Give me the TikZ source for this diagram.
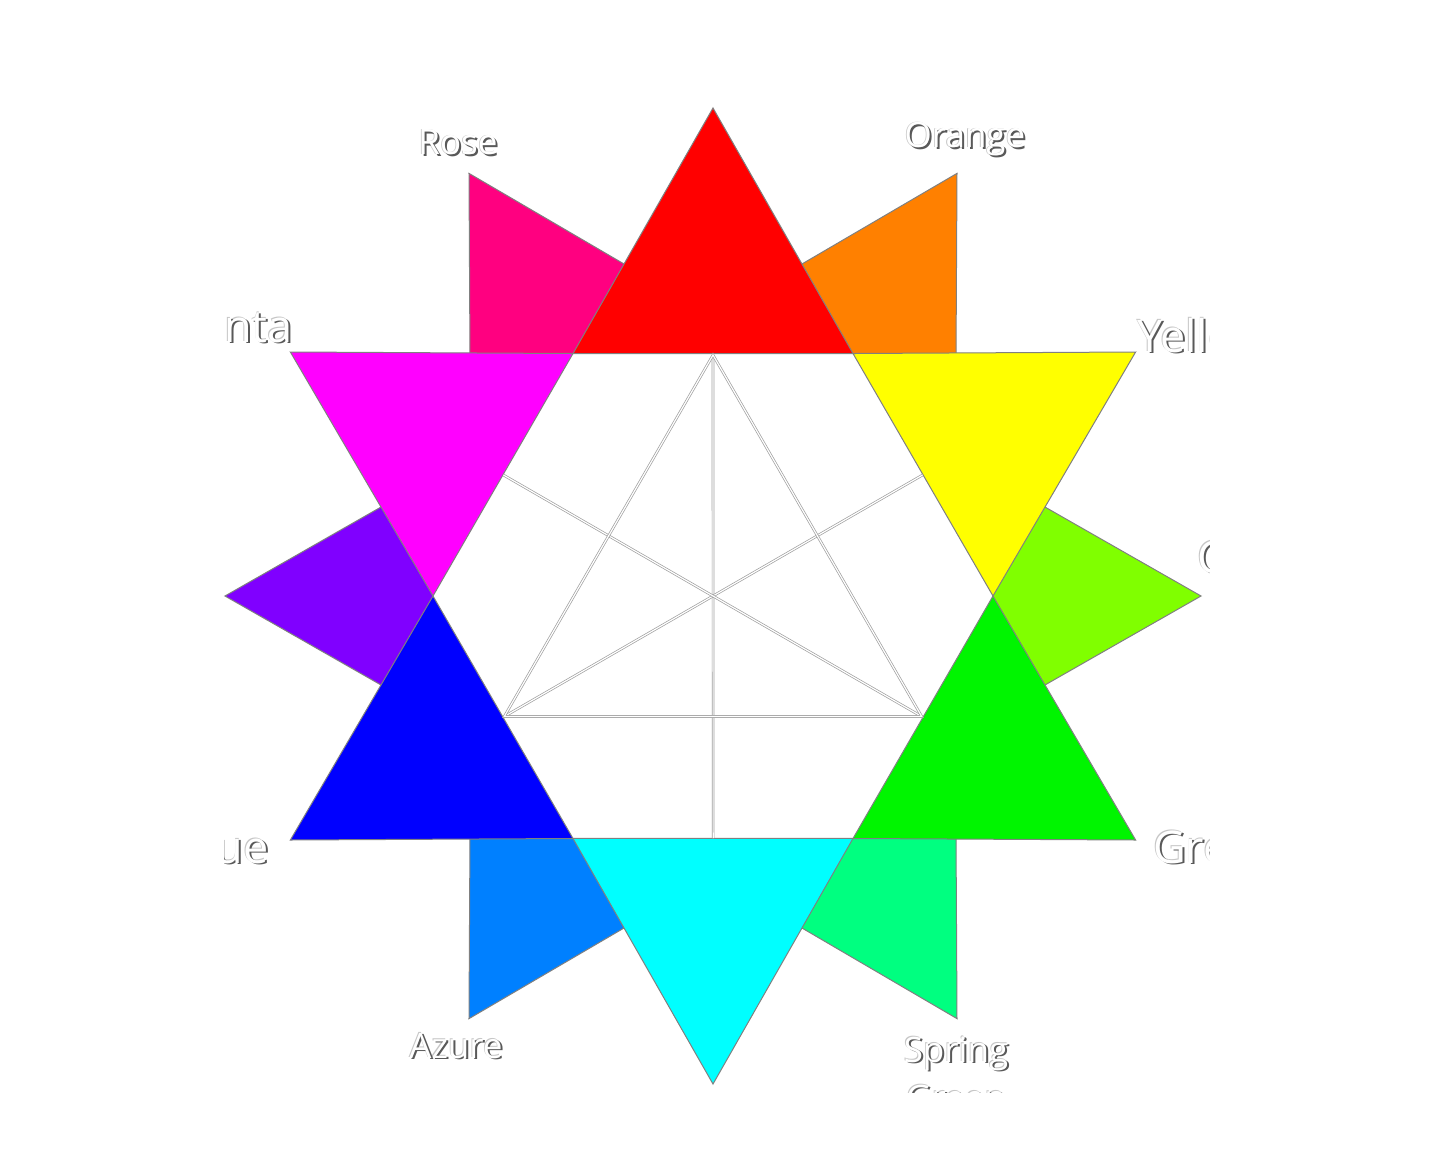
\documentclass[tikz,border=0pt]{standalone}
\usepackage{fontspec}
\setmainfont{Open Sans}
\usepackage{xcolor}
\usepackage{tikz}
\usetikzlibrary{positioning}
\definecolor{cRed}{RGB}{255,0,0}
\definecolor{cOrange}{RGB}{255,128,0}
\definecolor{cYellow}{RGB}{255,255,0}
\definecolor{cChart}{RGB}{128,255,0}
\definecolor{cGreen}{RGB}{0,245,0}
\definecolor{cSpring}{RGB}{0,255,128}
\definecolor{cCyan}{RGB}{0,255,255}
\definecolor{cAzure}{RGB}{0,128,255}
\definecolor{cBlue}{RGB}{0,0,255}
\definecolor{cViolet}{RGB}{128,0,255}
\definecolor{cMagenta}{RGB}{255,0,255}
\definecolor{cRose}{RGB}{255,0,128}
\tikzset{
  wedge/.style={draw=black!50, line width=1pt, line join=miter},
  guide/.style={draw=gray!75, double=white, double distance=1.2pt,
                line width=0.7pt},
  lbl/.style={inner sep=0pt, text=white, font=\fontsize{35}{48}\selectfont},
  biglbl/.style={lbl, font=\fontsize{45}{56}\selectfont},
}
% white label with a soft drop shadow
\newcommand{\huelabel}[5]{%
  \node[#1, anchor=#2, text=gray!45, xshift=-0.8pt, yshift=0.8pt] at (#3) {#4};
  \node[#1, anchor=#2, text=black!65, xshift=2pt, yshift=-1.8pt] at (#3) {#4};
  \node[#1, anchor=#2] (#5) at (#3) {#4};}

\begin{document}
\begin{tikzpicture}[x=1pt, y=1pt]
  \fill[white] (-713,-575) rectangle (718,596);
  \useasboundingbox (-713,-575) rectangle (718,596);

  %% === Tertiary points (behind) ===
  \foreach \ang/\col in {120/cRose, 60/cOrange, 0/cChart,
                         -60/cSpring, -120/cAzure, 180/cViolet}
    \filldraw[wedge, fill=\col] (\ang:488) -- ({\ang+30}:280)
      -- ({\ang-30}:280) -- cycle;

  %% === White hexagon ===
  \fill[white] (0:280) -- (60:280) -- (120:280) -- (180:280)
    -- (240:280) -- (300:280) -- cycle;

  %% === Primary and secondary points ===
  \foreach \ang/\col in {90/cRed, 30/cYellow, -30/cGreen,
                         -90/cCyan, -150/cBlue, 150/cMagenta}
    \filldraw[wedge, fill=\col] (\ang:488) -- ({\ang+30}:280)
      -- ({\ang-30}:280) -- cycle;

  %% === Inner triangle and medians ===
  \coordinate (t1) at (0,241);
  \coordinate (t2) at (210:241);
  \coordinate (t3) at (330:241);
  \coordinate (m1) at (0.15,-242);
  \coordinate (m2) at (30:242);
  \coordinate (m3) at (150:242);
  \draw[guide] (t1) -- (m1);
  \draw[guide] (t2) -- (m2);
  \draw[guide] (t3) -- (m3);
  \draw[guide] (t1) -- (t2) -- (t3) -- cycle;

  %% === Labels (cut at the frame) ===
  \begin{scope}
    \clip (-488,-496) rectangle (496,496);
    \huelabel{lbl}{base}{-255,441}{Rose}{rose}
    \huelabel{lbl}{base}{252,448}{Orange}{orange}
    \huelabel{biglbl}{base east}{-420,254}{Magenta}{magenta}
    \huelabel{biglbl}{base west}{424,244}{Yellow}{yellow}
    \huelabel{biglbl}{base west}{484,23}{Chartreuse}{chart}
    \huelabel{biglbl}{base east}{-444,-267}{Blue}{blue}
    \huelabel{biglbl}{base west}{440,-267}{Green}{green}
    \huelabel{lbl}{base}{-257,-462}{Azure}{azure}
    \huelabel{lbl, align=center}{base}{243,-514}{Spring\\Green}{spring}
  \end{scope}
\end{tikzpicture}
\end{document}
